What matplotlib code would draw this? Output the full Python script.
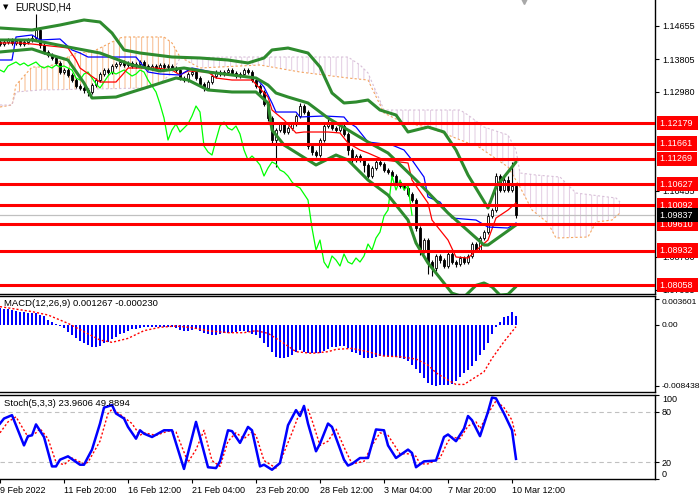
import numpy as np
import matplotlib
matplotlib.use('Agg')
import matplotlib.pyplot as plt
import matplotlib.transforms as mtransforms

plt.rcParams['font.family'] = ['Liberation Sans', 'DejaVu Sans']
plt.rcParams['hatch.linewidth'] = 0.7

# ---- EURUSD H4 candles (close per bar, wicks in pips) ----
open0 = 1.14247
close = [1.14196, 1.14247, 1.14298, 1.14222, 1.14273, 1.14196, 1.14247, 1.14298, 1.14349, 1.14553,
         1.14171, 1.13993, 1.13916, 1.13840, 1.13713, 1.13483, 1.13534, 1.13407, 1.13279, 1.13126,
         1.13076, 1.13025, 1.12974, 1.13152, 1.13279, 1.13432, 1.13534, 1.13483, 1.13636, 1.13687,
         1.13738, 1.13662, 1.13713, 1.13636, 1.13687, 1.13738, 1.13636, 1.13585, 1.13636, 1.13585,
         1.13662, 1.13611, 1.13636, 1.13585, 1.13534, 1.13330, 1.13279, 1.13432, 1.13483, 1.13330,
         1.13177, 1.13076, 1.13228, 1.13381, 1.13483, 1.13432, 1.13483, 1.13534, 1.13458, 1.13381,
         1.13432, 1.13534, 1.13483, 1.13279, 1.13126, 1.12974, 1.12668, 1.12312, 1.11751, 1.12006,
         1.12159, 1.11955, 1.12057, 1.12159, 1.12363, 1.12617, 1.12464, 1.11598, 1.11446, 1.11369,
         1.11751, 1.12108, 1.12210, 1.12057, 1.12006, 1.12108, 1.11904, 1.11497, 1.11242, 1.11344,
         1.11242, 1.11115, 1.10834, 1.11038, 1.11191, 1.11140, 1.10987, 1.10936, 1.10834, 1.10681,
         1.10580, 1.10529, 1.10376, 1.10223, 1.09510, 1.08949, 1.09204, 1.08644, 1.08491, 1.08797,
         1.08695, 1.08542, 1.08848, 1.08644, 1.08593, 1.08746, 1.08644, 1.08797, 1.09102, 1.08949,
         1.09255, 1.09408, 1.09815, 1.09968, 1.10834, 1.10478, 1.10732, 1.10478, 1.10580, 1.09837]
up_wick = [6, 5, 6, 5, 5, 6, 5, 5, 8, 41,
           6, 5, 5, 4, 5, 6, 5, 5, 6, 5,
           4, 5, 6, 5, 5, 6, 5, 5, 6, 5,
           5, 4, 5, 5, 5, 4, 5, 5, 4, 5,
           5, 5, 4, 5, 5, 5, 6, 5, 5, 5,
           5, 5, 6, 5, 5, 5, 5, 6, 5, 5,
           5, 6, 5, 5, 5, 5, 5, 5, 5, 6,
           6, 5, 5, 6, 6, 8, 6, 5, 5, 6,
           6, 6, 8, 5, 6, 5, 5, 5, 6, 5,
           5, 5, 5, 6, 5, 5, 5, 5, 5, 5,
           5, 5, 5, 5, 5, 6, 6, 5, 5, 6,
           5, 6, 7, 5, 5, 5, 5, 6, 6, 5,
           6, 6, 7, 6, 8, 6, 8, 10, 60, 6]
dn_wick = [5, 5, 5, 6, 5, 5, 5, 6, 5, 8,
           8, 5, 6, 5, 6, 5, 6, 5, 6, 6,
           6, 8, 10, 5, 5, 5, 5, 6, 5, 5,
           5, 5, 5, 5, 5, 5, 5, 5, 5, 5,
           5, 5, 5, 5, 5, 6, 6, 5, 5, 6,
           6, 8, 5, 5, 5, 5, 5, 5, 5, 5,
           5, 5, 5, 5, 6, 6, 6, 8, 8, 69,
           6, 5, 5, 5, 5, 5, 6, 8, 8, 6,
           5, 5, 5, 5, 5, 5, 6, 12, 8, 6,
           6, 18, 6, 5, 5, 5, 5, 6, 5, 6,
           6, 6, 6, 6, 8, 12, 8, 30, 20, 8,
           8, 6, 6, 6, 8, 6, 6, 6, 5, 5,
           6, 6, 6, 6, 6, 6, 6, 6, 6, 6]

# ---- indicators (bar index, value) ----
bb_up_bar = [0, 8, 15, 21, 25, 28, 31, 35, 43, 50, 57, 62, 66, 68, 72, 77, 80, 83, 86, 89, 92, 95, 99,
             102, 107, 111, 114, 117, 122, 124, 127, 129]
bb_up = [1.14604, 1.14553, 1.14680, 1.14808, 1.14757, 1.14476, 1.14044, 1.13967, 1.13865, 1.13840,
         1.13789, 1.13713, 1.13840, 1.14044, 1.14094, 1.13967, 1.13611, 1.12948, 1.12694, 1.12719,
         1.12770, 1.12515, 1.12388, 1.11955, 1.12082, 1.11955, 1.11497, 1.10860, 1.10019, 1.10554,
         1.10936, 1.11191]
bb_mid_bar = [0, 8, 12, 17, 25, 33, 40, 46, 52, 58, 64, 67, 69, 72, 77, 82, 87, 92, 97, 104, 112, 121,
              122, 129]
bb_mid = [1.14298, 1.14298, 1.14222, 1.14120, 1.13967, 1.13662, 1.13509, 1.13585, 1.13483, 1.13407,
          1.13330, 1.13152, 1.12948, 1.12846, 1.12694, 1.12312, 1.12006, 1.11700, 1.11420, 1.10732,
          1.09892, 1.09077, 1.09077, 1.09586]
bb_low_bar = [0, 8, 11, 17, 21, 23, 29, 33, 37, 44, 47, 52, 58, 64, 67, 68, 71, 75, 79, 84, 87, 92, 97,
              102, 104, 107, 111, 113, 116, 119, 121, 123, 125, 127, 129]
bb_low = [1.13993, 1.14069, 1.13967, 1.13789, 1.13203, 1.12821, 1.12846, 1.12974, 1.13101, 1.13330,
          1.13279, 1.13025, 1.12974, 1.12974, 1.12694, 1.12006, 1.11624, 1.11369, 1.11115, 1.11369,
          1.11242, 1.10732, 1.10350, 1.09713, 1.09128, 1.08619, 1.08108, 1.07850, 1.07750, 1.08050,
          1.08110, 1.08010, 1.07800, 1.07820, 1.08020]
kijun_bar = [0, 3, 4, 8, 10, 15, 18, 20, 22, 34, 36, 37, 40, 45, 48, 53, 58, 64, 66, 68, 69, 74, 75,
             81, 86, 87, 89, 92, 98, 101, 103, 106, 107, 110, 113, 119, 122, 127, 129]
kijun = [1.13789, 1.13789, 1.14375, 1.14426, 1.14298, 1.14324, 1.14044, 1.13967, 1.13865, 1.13865,
         1.13611, 1.13483, 1.13432, 1.13407, 1.13585, 1.13483, 1.13407, 1.13330, 1.13101, 1.12694,
         1.12464, 1.12464, 1.12337, 1.12363, 1.12337, 1.12210, 1.12082, 1.11700, 1.11624, 1.11497,
         1.11242, 1.10809, 1.10300, 1.10172, 1.09764, 1.09713, 1.09535, 1.09510, 1.09637]
tenkan_bar = [0, 5, 8, 15, 17, 19, 20, 25, 29, 31, 32, 39, 43, 45, 47, 52, 54, 58, 63, 67, 68, 71, 74,
              76, 82, 85, 87, 90, 92, 96, 102, 103, 107, 108, 110, 112, 114, 117, 120, 122, 124, 127, 129]
tenkan = [1.14222, 1.14222, 1.14196, 1.14120, 1.14094, 1.13789, 1.13585, 1.13228, 1.13228, 1.13458,
          1.13585, 1.13585, 1.13534, 1.13407, 1.13509, 1.13483, 1.13330, 1.13279, 1.13279, 1.12846,
          1.12515, 1.12261, 1.11930, 1.11955, 1.11955, 1.11930, 1.11675, 1.11497, 1.11420, 1.11242,
          1.11166, 1.10732, 1.10147, 1.09713, 1.09459, 1.09204, 1.08771, 1.08746, 1.09026, 1.09204,
          1.09764, 1.09968, 1.10147]
span_a_bar = [0, 3, 4, 8, 12, 19, 23, 30, 31, 41, 43, 45, 50, 65, 75, 87, 92, 96, 101, 107, 117, 119,
              127, 130, 133, 137, 139, 147, 149, 153, 155]
span_a = [1.12592, 1.12643, 1.13152, 1.13610, 1.13610, 1.13967, 1.13993, 1.14349, 1.14375, 1.14375,
          1.14222, 1.13866, 1.13585, 1.13662, 1.13483, 1.13330, 1.13279, 1.12439, 1.12184, 1.12082,
          1.11675, 1.11624, 1.11064, 1.10554, 1.09968, 1.09637, 1.09255, 1.09281, 1.09662, 1.09713,
          1.09892]
span_b_bar = [0, 3, 4, 10, 37, 40, 43, 45, 58, 87, 90, 92, 96, 115, 117, 121, 127, 129, 130, 134, 140,
              144, 154, 155]
span_b = [1.12643, 1.12643, 1.12974, 1.13025, 1.13076, 1.13203, 1.13458, 1.13840, 1.13865, 1.13865,
          1.13662, 1.13458, 1.12515, 1.12515, 1.12388, 1.12082, 1.11879, 1.11497, 1.10911, 1.10860,
          1.10809, 1.10401, 1.10274, 1.10172]
chikou_shift = 26

levels = [1.12179, 1.11661, 1.11269, 1.10627, 1.10092, 1.09610, 1.08932, 1.08058]
last_price = 1.09837
price_ticks = [1.14655, 1.13805, 1.12980, 1.10455, 1.08780, 1.07935]

# ---- MACD(12,26,9) ----
macd_hist = [0.00232, 0.00223, 0.00218, 0.00209, 0.00190, 0.00181, 0.00176, 0.00172, 0.00172, 0.00162,
             0.00139, 0.00125, 0.00070, 0.00046, 0.00014, -0.00009, -0.00046, -0.00093, -0.00139, -0.00186,
             -0.00223, -0.00255, -0.00278, -0.00302, -0.00302, -0.00292, -0.00255, -0.00232, -0.00200, -0.00162,
             -0.00130, -0.00107, -0.00079, -0.00060, -0.00051, -0.00037, -0.00032, -0.00028, -0.00028, -0.00028,
             -0.00028, -0.00028, -0.00023, -0.00032, -0.00046, -0.00070, -0.00079, -0.00079, -0.00070, -0.00060,
             -0.00079, -0.00107, -0.00130, -0.00144, -0.00144, -0.00130, -0.00116, -0.00111, -0.00107, -0.00102,
             -0.00088, -0.00079, -0.00093, -0.00125, -0.00139, -0.00186, -0.00255, -0.00311, -0.00371, -0.00441,
             -0.00455, -0.00455, -0.00441, -0.00418, -0.00371, -0.00348, -0.00371, -0.00385, -0.00394, -0.00394,
             -0.00385, -0.00362, -0.00339, -0.00311, -0.00302, -0.00292, -0.00292, -0.00325, -0.00380, -0.00394,
             -0.00418, -0.00455, -0.00455, -0.00455, -0.00441, -0.00432, -0.00432, -0.00432, -0.00441, -0.00441,
             -0.00455, -0.00473, -0.00496, -0.00557, -0.00612, -0.00673, -0.00742, -0.00803, -0.00830, -0.00844,
             -0.00840, -0.00836, -0.00830, -0.00820, -0.00775, -0.00719, -0.00673, -0.00626, -0.00571, -0.00496,
             -0.00418, -0.00348, -0.00246, -0.00130, -0.00023, 0.00046, 0.00116, 0.00125, 0.00176, 0.001267]
macd_sig_bar = [0, 8, 12, 17, 21, 25, 28, 32, 36, 40, 44, 48, 52, 57, 61, 64, 67, 71, 74, 78, 82, 84, 88,
                92, 96, 100, 104, 107, 109, 112, 114, 116, 118, 121, 123, 126, 129]
macd_sig = [0.00255, 0.00186, 0.00139, 0.00023, -0.00093, -0.00209, -0.00241, -0.00186, -0.00079, -0.00032,
            -0.00014, -0.00037, -0.00079, -0.00107, -0.00107, -0.00079, -0.00116, -0.00255, -0.00371, -0.00394,
            -0.00371, -0.00339, -0.00325, -0.00371, -0.00432, -0.00441, -0.00473, -0.00557, -0.00664, -0.00766,
            -0.00826, -0.00826, -0.00756, -0.00650, -0.00464, -0.00232, -0.00023]
macd_ticks = [0.003601, 0.0, -0.008438]
macd_tick_labels = ['0.003601', '0.00', '-0.008438']

# ---- Stochastic(5,3,3) ----
stoch_k_bar = [0, 1, 3, 6, 7, 8, 9, 11, 13, 14, 15, 17, 20, 21, 23, 25, 26, 28, 29, 31, 32, 34, 35, 36,
               38, 41, 43, 46, 49, 52, 54, 55, 57, 58, 60, 62, 63, 65, 66, 68, 70, 72, 74, 75, 76, 77, 79,
               80, 82, 83, 86, 87, 88, 90, 92, 94, 96, 97, 99, 102, 103, 104, 106, 109, 111, 112, 114, 116,
               117, 118, 120, 122, 123, 124, 126, 128, 129]
stoch_k = [66, 72, 76, 40, 51, 52, 65, 50, 15, 15, 23, 27, 17, 17, 35, 66, 85, 88, 78, 72, 62, 48, 58, 54,
           50, 58, 58, 12, 68, 14, 13, 21, 58, 57, 43, 62, 58, 15, 17, 11, 19, 64, 82, 75, 87, 66, 33,
           42, 66, 62, 23, 16, 18, 25, 25, 59, 58, 40, 25, 35, 31, 14, 21, 22, 50, 53, 45, 60,
           75, 70, 51, 80, 97, 96, 78, 58, 23.96]
stoch_d_bar = [0, 2, 4, 7, 9, 10, 12, 14, 16, 18, 21, 22, 25, 27, 28, 30, 33, 35, 36, 39, 42, 44, 47, 49,
               51, 53, 55, 57, 59, 61, 63, 64, 66, 69, 70, 73, 75, 77, 78, 80, 82, 84, 86, 88, 91, 93, 95,
               97, 100, 102, 104, 105, 107, 110, 112, 113, 115, 117, 119, 120, 122, 124, 126, 128, 129]
stoch_d = [55, 68, 74, 50, 55, 60, 48, 20, 17, 25, 18, 20, 45, 78, 83, 77, 66, 52, 55, 52, 57, 56, 20, 35,
           58, 22, 15, 45, 55, 48, 56, 52, 22, 13, 20, 55, 80, 83, 70, 40, 45, 60, 38, 18, 21, 40, 55,
           52, 30, 30, 27, 18, 18, 25, 45, 50, 48, 63, 68, 60, 78, 93, 85, 70, 49.89]

tick_bars = [0, 16, 32, 48, 64, 80, 96, 112, 128]
tick_labels = ['9 Feb 2022', '11 Feb 20:00', '16 Feb 12:00', '21 Feb 04:00', '23 Feb 20:00',
               '28 Feb 12:00', '3 Mar 04:00', '7 Mar 20:00', '10 Mar 12:00']

# ---- figure layout (MT4 style, three panes) ----
W, H = 700.0, 500.0
fig = plt.figure(figsize=(7, 5), dpi=100)


def pane(top, bottom):
    return fig.add_axes([0, 1 - bottom / H, 655 / W, (bottom - top) / H])


ax = pane(0, 293.5)
ax_m = pane(296, 391.7)
ax_s = pane(394.5, 479)
xmax = 655 / 4.0
for a in (ax, ax_m, ax_s):
    a.set_xlim(0, xmax)
    a.spines['left'].set_visible(False)
    for s in ('right', 'bottom', 'top'):
        a.spines[s].set_linewidth(1.0)
    a.yaxis.tick_right()
    a.tick_params(axis='y', length=3, width=0.8, labelsize=6.5, pad=2)
    a.tick_params(axis='x', bottom=False, labelbottom=False)
ax.spines['top'].set_visible(False)

ax.set_ylim(1.07842, 1.15317)
ax_m.set_ylim(-0.00927, 0.00403)
ax_s.set_ylim(0, 100.6)

# ---- main pane ----
n = len(close)
bars = np.arange(n)
closes = np.array(close)
opens = np.array([open0] + close[:-1])
highs = np.maximum(opens, closes) + np.array(up_wick) * 0.0001
lows = np.minimum(opens, closes) - np.array(dn_wick) * 0.0001

# ichimoku cloud
grid = np.arange(0, span_a_bar[-1] + 1)
sa = np.interp(grid, span_a_bar, span_a)
sb = np.interp(grid, span_b_bar, span_b)
ax.fill_between(grid, sa, sb, where=sa >= sb, interpolate=True, facecolor='none',
                edgecolor='#f7b98a', hatch='|||', linewidth=0, zorder=1)
ax.fill_between(grid, sa, sb, where=sa < sb, interpolate=True, facecolor='none',
                edgecolor='#e2cce2', hatch='|||', linewidth=0, zorder=1)
ax.plot(span_a_bar, span_a, color='#f4a460', lw=0.8, ls=(0, (2, 2)), zorder=1.5)
ax.plot(span_b_bar, span_b, color='#d8bfd8', lw=0.8, ls=(0, (2, 2)), zorder=1.5)

ax.axhline(last_price, color='#c0c0c0', lw=0.9, zorder=1.6)

# candles
ax.vlines(bars, lows, highs, color='black', lw=0.8, zorder=2)
body = np.maximum(np.abs(closes - opens), 0.00003)
colors = ['white' if c >= o else 'black' for o, c in zip(opens, closes)]
ax.bar(bars, body, bottom=np.minimum(opens, closes), width=0.7, color=colors,
       edgecolor='black', linewidth=0.6, zorder=2.2)

# chikou span, tenkan, kijun, bollinger
ax.plot(bars - chikou_shift, closes, color='#00ff00', lw=0.9, zorder=3)
ax.plot(tenkan_bar, tenkan, color='red', lw=0.9, zorder=3)
ax.plot(kijun_bar, kijun, color='blue', lw=0.9, zorder=3)
for bx, by in ((bb_up_bar, bb_up), (bb_mid_bar, bb_mid), (bb_low_bar, bb_low)):
    ax.plot(bx, by, color='#2e8b2e', lw=2.2, zorder=3.2, solid_capstyle='round')

for lv in levels:
    ax.axhline(lv, color='red', lw=2.2, zorder=4)

ax.set_yticks(price_ticks)
ax.set_yticklabels(['%.5f' % t for t in price_ticks])

trans = mtransforms.blended_transform_factory(ax.transAxes, ax.transData)
for lv in levels:
    ax.text(1 + 5 / 655, lv, '%.5f ' % lv, transform=trans, color='white', fontsize=6.5,
            va='center', ha='left', clip_on=False, zorder=6,
            bbox=dict(boxstyle='square,pad=0.3', fc='red', ec='none'))
ax.text(1 + 5 / 655, last_price, '%.5f ' % last_price, transform=trans, color='white',
        fontsize=6.5, va='center', ha='left', clip_on=False, zorder=6,
        bbox=dict(boxstyle='square,pad=0.3', fc='black', ec='none'))

# chart shift marker
ax.plot([n + 1], [1.15317], marker='v', color='#a8a8a8', ms=6, clip_on=False, zorder=5)

fig.text(3 / W, 1 - 7 / H, '\u25bc', fontsize=5, va='center', ha='left',
         family=['DejaVu Sans'])
fig.text(15 / W, 1 - 7 / H, 'EURUSD,H4', fontsize=7, va='center', ha='left')

# ---- MACD pane ----
ax_m.bar(bars, macd_hist, width=0.72, color='#0000ff', linewidth=0, antialiased=False,
         zorder=2)
ax_m.plot(macd_sig_bar, macd_sig, color='red', lw=1.0, ls=(0, (1.5, 1.5)), zorder=3)
ax_m.set_yticks(macd_ticks)
ax_m.set_yticklabels(macd_tick_labels)
ax_m.tick_params(axis='y', labelsize=6.1)
ax_m.get_yticklabels()[0].set_va('top')
fig.text(4 / W, 1 - 304 / H, 'MACD(12,26,9) 0.001267 -0.000230', fontsize=6.8,
         va='center', ha='left')

# ---- Stochastic pane ----
ax_s.axhline(80, color='#c0c0c0', lw=0.8, ls=(0, (4, 3)))
ax_s.axhline(20, color='#c0c0c0', lw=0.8, ls=(0, (4, 3)))
ax_s.plot(stoch_d_bar, stoch_d, color='red', lw=1.0, ls=(0, (1.5, 1.5)), zorder=2)
ax_s.plot(stoch_k_bar, stoch_k, color='blue', lw=1.8, zorder=3)
ax_s.set_yticks([100, 80, 20, 0])
ax_s.set_yticklabels(['100', '80', '20', '0'])
ylabs = ax_s.get_yticklabels()
ylabs[0].set_va('top')
ylabs[3].set_va('bottom')
fig.text(4 / W, 1 - 404 / H, 'Stoch(5,3,3) 23.9606 49.8894', fontsize=6.8,
         va='center', ha='left')

ax_s.set_xticks(tick_bars)
ax_s.set_xticklabels(tick_labels)
ax_s.tick_params(axis='x', bottom=True, labelbottom=True, length=3, width=0.8,
                 labelsize=6.5, pad=2)
for lab in ax_s.get_xticklabels():
    lab.set_ha('left')

fig.savefig('out.png', dpi=100)
